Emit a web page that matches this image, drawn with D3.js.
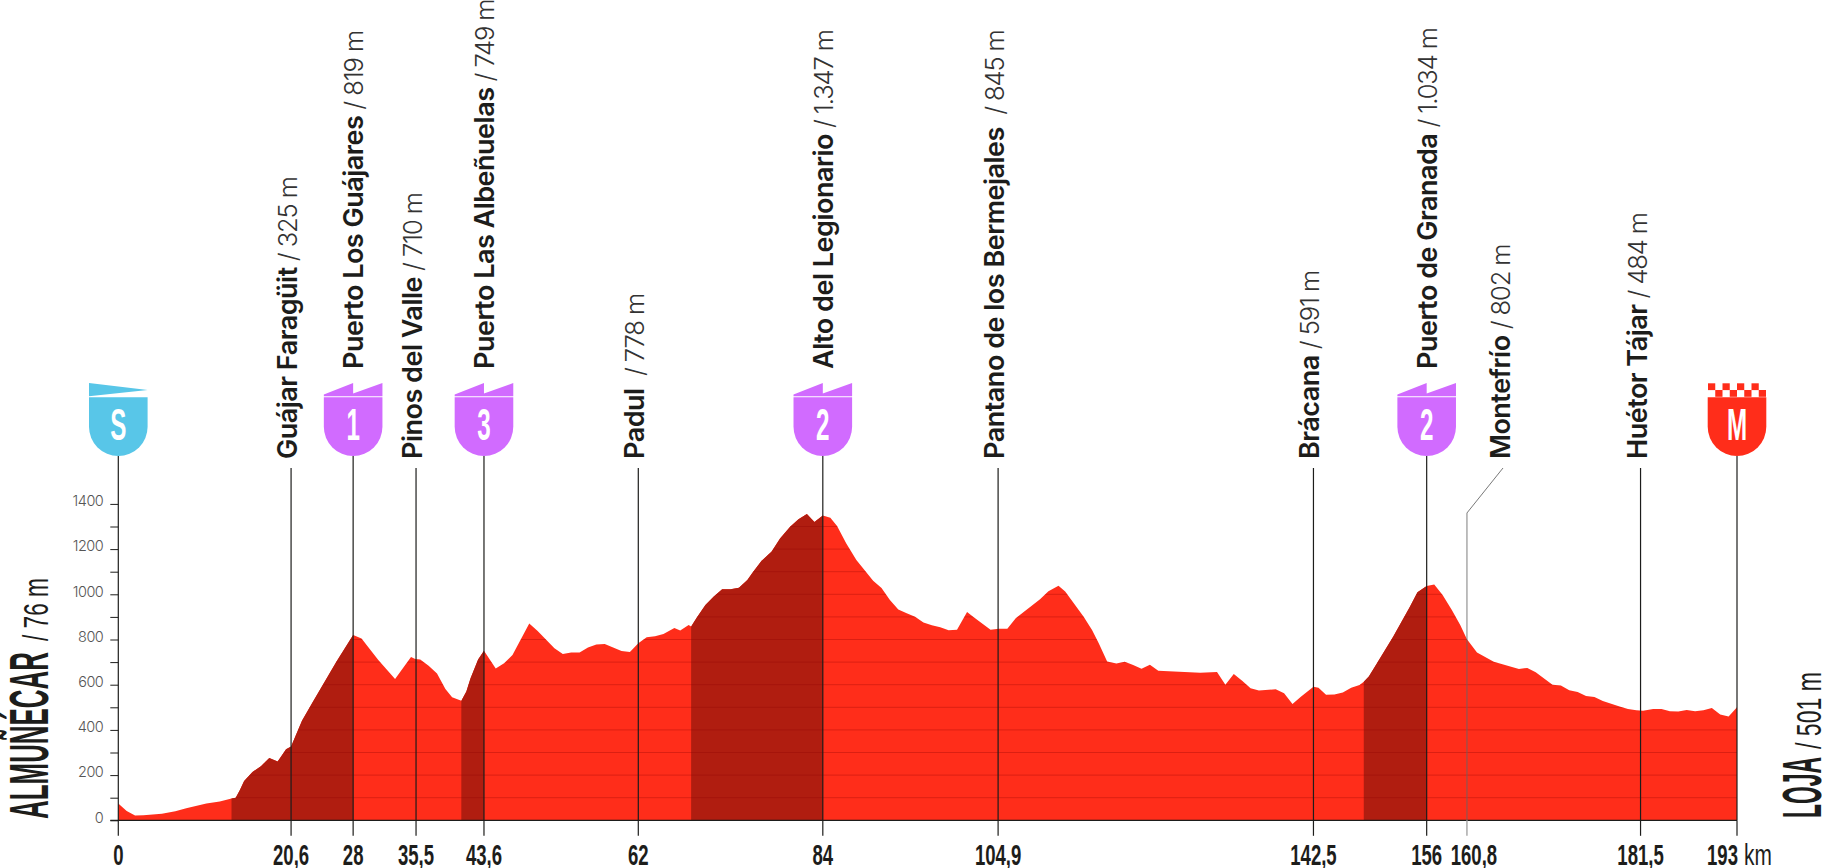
<!DOCTYPE html>
<html><head><meta charset="utf-8">
<script src="https://cdn.jsdelivr.net/npm/d3@7"></script>
<style>html,body{margin:0;padding:0;background:#fff;overflow:hidden}svg{display:block}</style>
</head><body><svg id="c" width="1822" height="868"></svg>
<script>
const profileKm=[0,1,2,3,5.2,6.8,8.1,10.5,12.1,13.5,14,14.5,15,16,17,18,19,20,20.6,21.9,23.1,26,28,29,31,33,34.9,35.4,36,37,38,39,39.8,40.9,41.5,42,42.9,43.6,45,46,47,49,50,52,53,54,55,56,57,58,60,61,62,63,64,65,66.3,67,68,68.3,69,70,71,72,73,74,75,75.7,76.7,77.9,78.9,80.1,81.1,82.1,83,84,84.9,85.7,86.8,88,90,91,92,93,94,95,96,97,98,99,100,101.2,102,104,105,106,107,109.9,110.9,112.1,112.9,115.1,116.1,116.9,117.9,119,120,121,122,123,124,129,131,132,133,134,135,136,138,139,140,141,142.5,143.1,144,145,146,147,148,148.5,149.1,150,152,154,154.9,156,156.9,157.9,159,160,160.8,162,164,167,168,169,171,172,173,174,175,176,177,179,180,181,181.8,183,184,185,186,187,188,189,190,191,192,193];
const profileElev=[74,41,21,22,29,40,53,74,83,97,100,134,174,214,239,276,260,314,326,440,518,702,820,804,709,625,723,714,712,684,650,581,544,529,570,628,712,750,672,695,731,871,838,761,736,743,742,765,778,780,749,745,783,810,814,824,851,840,864,857,898,953,990,1022,1022,1029,1063,1100,1148,1189,1247,1299,1332,1355,1320,1349,1339,1302,1225,1152,1060,1028,975,933,916,901,875,863,854,841,843,922,898,843,848,848,894,978,1014,1038,1012,901,842,783,703,694,702,687,671,688,662,653,656,600,647,618,584,574,580,562,515,547,591,587,556,557,566,587,599,613,636,690,812,945,1009,1037,1043,997,930,864,801,742,702,670,674,655,600,596,575,568,550,546,528,503,493,487,485,493,493,482,481,488,482,487,497,468,459,500];

const climbStart=[13.5,40.9,68.3,148.5];
const climbEnd=[28,43.6,84,156];

const passNames=["Guájar Faragüit","Puerto Los Guájares","Pinos del Valle","Puerto Las Albeñuelas","Padul ","Alto del Legionario","Pantano de los Bermejales ","Brácana","Puerto de Granada","Montefrío","Huétor Tájar"];
const passHeights=["325 m","819 m","710 m","749 m","778 m","1.347 m","845 m","591 m","1.034 m","802 m","484 m"];
const passKm=[20.6,28,35.5,43.6,62,84,104.9,142.5,156,160.8,181.5];
const passFlag=["","1","","3","","2","","","2","",""];

const xTickKm=[0,20.6,28,35.5,43.6,62,84,104.9,142.5,156,160.8,181.5,193];
const xTickLabels=["0","20,6","28","35,5","43,6","62","84","104,9","142,5","156","160,8","181,5","193"];
const yTicks=[0,100,200,300,400,500,600,700,800,900,1000,1100,1200,1300,1400];

const startName="ALMUÑÉCAR",startHeight="/ 76 m",endName="LOJA",endHeight="/ 501 m";
const COND="'Liberation Sans Narrow','Liberation Sans',sans-serif";
const INK="#1d1d1b",RED="#ff2d1a",DARK="#b01d10",PURPLE="#d16bff",BLUE="#58c6e8";

const svg=d3.select("#c");
const x=d3.scaleLinear().domain([0,193]).range([118.3,1737]);
const y=d3.scaleLinear().domain([0,1400]).range([820.3,503.9]);
const pts=profileKm.map((k,i)=>[k,profileElev[i]]);
const area=d3.area().x(d=>x(d[0])).y0(y(0)).y1(d=>y(d[1])).curve(d3.curveLinear);

svg.append("clipPath").attr("id","prof").append("path").attr("d",area(pts));
svg.append("path").attr("d",area(pts)).attr("fill",RED);
const clipped=svg.append("g").attr("clip-path","url(#prof)");
clipped.selectAll("rect").data(climbStart).join("rect")
 .attr("x",d=>x(d)).attr("width",(d,i)=>x(climbEnd[i])-x(d)).attr("y",y(1400)-10).attr("height",y(0)-y(1400)+10).attr("fill",DARK);
clipped.selectAll("line").data(yTicks.slice(1)).join("line")
 .attr("x1",x(0)).attr("x2",x(193)).attr("y1",d=>y(d)).attr("y2",d=>y(d))
 .attr("stroke","#8a0000").attr("stroke-opacity",.3).attr("stroke-width",1);

// y axis
const gy=svg.append("g").attr("transform",`translate(${x(0)},0)`)
 .call(d3.axisLeft(y).tickValues(yTicks).tickSize(8).tickFormat(d=>d%200===0?d:""));
gy.select(".domain").remove();
gy.selectAll("line").attr("stroke",INK).attr("stroke-width",1);
gy.selectAll("text").attr("font-family","Inter,sans-serif").attr("font-weight",300).attr("font-size",14.5).attr("letter-spacing",-.5).attr("fill","#555").attr("dx",-4).attr("dy","0.12em");

// baseline
svg.append("line").attr("x1",x(0)-8).attr("x2",x(193)).attr("y1",y(0)).attr("y2",y(0)).attr("stroke",INK).attr("stroke-width",1.2);

// x axis
const tickNudge=d=>d===160.8?7:d===193?-14.5:0;
const gx=svg.append("g").attr("transform",`translate(0,${y(0)})`)
 .call(d3.axisBottom(x).tickValues(xTickKm).tickSize(15.5).tickFormat((d,i)=>xTickLabels[i]));
gx.select(".domain").remove();
gx.selectAll("g.tick").attr("transform",null);
gx.selectAll("g.tick line").attr("transform",d=>`translate(${x(d)},0)`).attr("stroke",d=>d===160.8?"#aaa":INK).attr("stroke-width",d=>d===160.8?1.5:1.2);
gx.selectAll("g.tick text").attr("x",0).attr("y",0).attr("dy",0).attr("text-anchor","middle")
 .attr("font-family",COND).attr("font-weight",700).attr("font-size",29).attr("fill",INK)
 .attr("transform",d=>`translate(${x(d)+tickNudge(d)},44.7) scale(0.64,1)`);
svg.append("text").attr("transform","translate(1744,865) scale(0.72,1)")
 .attr("font-family",COND).attr("font-size",29).attr("fill",INK).text("km");

// vertical lines
svg.append("line").attr("x1",x(0)).attr("x2",x(0)).attr("y1",456).attr("y2",y(0)).attr("stroke",INK).attr("stroke-width",1.2);
svg.append("line").attr("x1",x(193)).attr("x2",x(193)).attr("y1",456).attr("y2",y(0)).attr("stroke",INK).attr("stroke-width",1.2);
passKm.forEach((k,i)=>{
  if(passNames[i]==="Montefrío"){
    svg.append("line").attr("x1",x(k)).attr("x2",x(k)).attr("y1",513).attr("y2",y(0)).attr("stroke","#666").attr("stroke-opacity",.6).attr("stroke-width",1.4);
    svg.append("line").attr("x1",x(k)).attr("x2",1503).attr("y1",513).attr("y2",468).attr("stroke","#555").attr("stroke-width",.8);
    return;
  }
  svg.append("line").attr("x1",x(k)).attr("x2",x(k)).attr("y1",passFlag[i]?456:468).attr("y2",y(0)).attr("stroke",INK).attr("stroke-width",1.2);
});

// flags
const R=29.3;
function shield(g,color,letter){
  g.append("path").attr("d",`M${-R},397.3H${R}V${456-R}A${R},${R} 0 0 1 ${-R},${456-R}Z`).attr("fill",color);
  g.append("text").attr("transform","translate(0,440) scale(0.55,1)").attr("text-anchor","middle")
   .attr("font-family",COND).attr("font-weight",700).attr("font-size",44).attr("fill","#fff").text(letter);
}
const gs=svg.append("g").attr("transform",`translate(${x(0)},0)`);
shield(gs,BLUE,"S");
gs.append("path").attr("d",`M${-R},383L${R},390L${-R},396.2Z`).attr("fill",BLUE);
passKm.forEach((k,i)=>{
  if(!passFlag[i])return;
  const g=svg.append("g").attr("transform",`translate(${x(k)},0)`);
  shield(g,PURPLE,passFlag[i]);
  g.append("path").attr("d",`M${-R},394.5L0,383V393.5L${R},383V396.2H${-R}Z`).attr("fill",PURPLE);
});
const gm=svg.append("g").attr("transform",`translate(${x(193)},0)`);
shield(gm,RED,"M");
d3.range(8).forEach(i=>{
  gm.append("rect").attr("x",-29+i*7.25).attr("y",i%2?390:383.3).attr("width",7.25).attr("height",6.8).attr("fill",RED);
});

// pass labels
passNames.forEach((n,i)=>{
  const flag=!!passFlag[i];
  const bx=n==="Montefrío"?1510:x(passKm[i])+(flag?10:6);
  const by=flag?369:459;
  const t=svg.append("text").attr("transform",`translate(${bx},${by}) rotate(-90)`).attr("font-size",27).attr("fill",INK).style("white-space","pre");
  t.append("tspan").attr("font-family","Inter,sans-serif").attr("font-weight",600).attr("letter-spacing",-.5).text(n);
  t.append("tspan").attr("font-family","Inter,sans-serif").attr("font-weight",300).attr("font-size",25.5).attr("letter-spacing",-1.1).attr("fill","#333").text(" / "+passHeights[i]);
});

// start / finish
function endLabel(bx,by,name,h,nameLen,hStart,hLen){
  svg.append("text").attr("transform",`translate(${bx},${by}) rotate(-90)`).attr("font-family",COND).attr("font-weight",700).attr("font-size",55).attr("fill",INK)
   .attr("textLength",nameLen).attr("lengthAdjust","spacingAndGlyphs").text(name);
  svg.append("text").attr("transform",`translate(${bx},${hStart}) rotate(-90)`).attr("font-family",COND).attr("font-size",35).attr("fill",INK)
   .attr("textLength",hLen).attr("lengthAdjust","spacingAndGlyphs").text(h);
}
endLabel(48,819,startName,startHeight,167,641,63);
endLabel(1821,818,endName,endHeight,61,749,77);
</script></body></html>
